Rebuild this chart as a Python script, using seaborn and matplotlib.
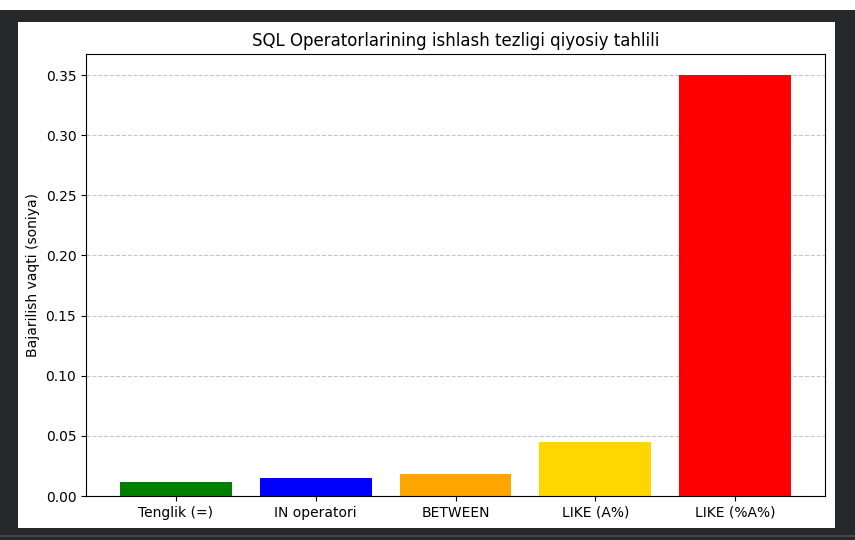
import matplotlib
matplotlib.use("Agg")
import matplotlib.pyplot as plt
import seaborn as sns
from matplotlib.patches import Rectangle

operators = ["Tenglik (=)", "IN operatori", "BETWEEN", "LIKE (A%)", "LIKE (%A%)"]
times = [0.012, 0.015, 0.018, 0.045, 0.35]
colors = ["green", "blue", "orange", "gold", "red"]

W, H = 855, 540
fig = plt.figure(figsize=(W / 100, H / 100), dpi=100, facecolor="#26282c")

# screenshot framing: white strip on top, white figure area inside dark frame
fig.patches.append(Rectangle((0, 1 - 10 / H), 1, 10 / H, transform=fig.transFigure,
                             facecolor="white", edgecolor="none", zorder=-2))
fig.patches.append(Rectangle((0, 3 / H), 1, 2 / H, transform=fig.transFigure,
                             facecolor="#45474b", edgecolor="none", zorder=-2))
fig.patches.append(Rectangle((18 / W, 12 / H), (835 - 18) / W, (528 - 22) / H,
                             transform=fig.transFigure, facecolor="white",
                             edgecolor="none", zorder=-1))

ax = fig.add_axes([86 / W, 44 / H, (825 - 86) / W, (496 - 54) / H])
sns.barplot(x=operators, y=times, hue=operators, palette=colors,
            saturation=1, legend=False, width=0.8, ax=ax)
ax.set_xlim(-0.64, 4.64)
ax.set_ylim(0, 0.3675)
ax.set_xlabel("")
ax.set_ylabel("Bajarilish vaqti (soniya)", fontsize=10)
ax.set_title("SQL Operatorlarining ishlash tezligi qiyosiy tahlili", fontsize=12)
ax.set_axisbelow(True)
ax.grid(axis="y", linestyle="--", alpha=0.7)
ax.tick_params(labelsize=10)

fig.savefig("out.png", dpi=100, facecolor=fig.get_facecolor())
